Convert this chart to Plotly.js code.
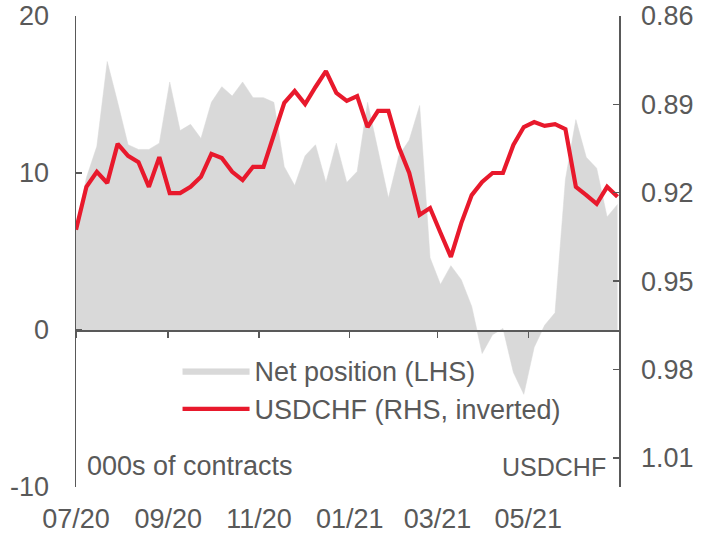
<!DOCTYPE html>
<html>
<head>
<meta charset="utf-8">
<script src="https://cdn.plot.ly/plotly-3.0.1.min.js"></script>
<style>html,body{margin:0;padding:0;background:#fff;}#chart{width:715px;height:537px;}</style>
</head>
<body>
<div id="chart"></div>
<script>
// Weekly observation dates
var dates = [
  '2020-07-01','2020-07-08','2020-07-15','2020-07-22','2020-07-29','2020-08-05','2020-08-12','2020-08-19','2020-08-26',
  '2020-09-02','2020-09-09','2020-09-16','2020-09-23','2020-09-30','2020-10-07','2020-10-14','2020-10-21','2020-10-28',
  '2020-11-04','2020-11-11','2020-11-18','2020-11-25','2020-12-02','2020-12-09','2020-12-16','2020-12-23','2020-12-30',
  '2021-01-06','2021-01-13','2021-01-20','2021-01-27','2021-02-03','2021-02-10','2021-02-17','2021-02-24',
  '2021-03-03','2021-03-10','2021-03-17','2021-03-24','2021-03-31','2021-04-07','2021-04-14','2021-04-21','2021-04-28',
  '2021-05-05','2021-05-12','2021-05-19','2021-05-26','2021-06-02','2021-06-09','2021-06-16','2021-06-23','2021-06-30'
];
// Net position, 000s of contracts (LHS)
var netPosition = [
  6.4, 9.7, 11.7, 17.1, 14.5, 11.8, 11.5, 11.5, 11.9,
  15.8, 12.7, 13.1, 12.2, 14.5, 15.5, 14.9, 15.8, 14.8,
  14.8, 14.5, 10.4, 9.2, 11.1, 11.8, 9.4, 11.9, 9.4,
  10.1, 14.5, 11.5, 8.4, 11.1, 12.1, 14.3, 4.6,
  2.9, 4.1, 3.2, 1.5, -1.5, -0.3, 0.1, -2.7, -4.1,
  -1.1, 0.3, 1.1, 9.6, 13.4, 11.0, 10.3, 7.2, 8.0
];
// USDCHF (RHS, inverted)
var usdchf = [
  0.9326, 0.9180, 0.9129, 0.9167, 0.9034, 0.9075, 0.9096, 0.9180, 0.9079,
  0.9201, 0.9201, 0.9180, 0.9146, 0.9068, 0.9082, 0.9129, 0.9157, 0.9112,
  0.9112, 0.9004, 0.8895, 0.8855, 0.8899, 0.8841, 0.8787, 0.8861, 0.8888,
  0.8872, 0.8977, 0.8922, 0.8922, 0.9045, 0.9133, 0.9275, 0.9252,
  0.9336, 0.9418, 0.9303, 0.9208, 0.9163, 0.9133, 0.9133, 0.9038, 0.8977,
  0.8960, 0.8973, 0.8967, 0.8984, 0.9180, 0.9208, 0.9238, 0.9180, 0.9214
];
var xTickVals = ['2020-07-01','2020-09-01','2020-11-01','2021-01-01','2021-03-01','2021-05-01'];
var xTickText = ['07/20','09/20','11/20','01/21','03/21','05/21'];
var leftTicks = [-10, 0, 10, 20];
var leftTickText = ['-10', '0', '10', '20'];
var rightTicks = [0.86, 0.89, 0.92, 0.95, 0.98, 1.01];
var rightTickText = ['0.86','0.89','0.92','0.95','0.98','1.01'];

var grey = '#595959';
var fontFam = 'Liberation Sans, Arial, sans-serif';
var fs = 27;

var traces = [
  {
    x: dates, y: netPosition, type: 'scatter', mode: 'lines',
    name: 'Net position (LHS)', fill: 'tozeroy', fillcolor: '#D9D9D9',
    line: {color: '#D9D9D9', width: 0.5}, xaxis: 'x', yaxis: 'y', hoverinfo: 'skip'
  },
  {
    x: dates, y: usdchf, type: 'scatter', mode: 'lines',
    name: 'USDCHF (RHS, inverted)',
    line: {color: '#E8192C', width: 4.2}, xaxis: 'x2', yaxis: 'y2', hoverinfo: 'skip'
  }
];

var layout = {
  width: 715, height: 537,
  margin: {l: 76, r: 96, t: 16, b: 50},
  paper_bgcolor: '#ffffff', plot_bgcolor: 'rgba(0,0,0,0)',
  font: {family: fontFam, size: fs, color: grey},
  showlegend: true,
  legend: {
    x: 0.187, y: 0.298, xanchor: 'left', yanchor: 'top',
    bgcolor: 'rgba(0,0,0,0)', font: {size: fs, color: grey, family: fontFam},
    itemwidth: 67, tracegroupgap: 0
  },
  xaxis: {
    type: 'date', range: ['2020-07-01', '2021-07-01'],
    tickmode: 'array', tickvals: xTickVals, ticktext: xTickText,
    showline: false, ticks: '', showgrid: false, zeroline: false,
    tickfont: {size: fs, color: grey}, anchor: 'y', ticklabelstandoff: 13
  },
  xaxis2: {
    type: 'date', matches: 'x', overlaying: 'x', anchor: 'free', position: 1/3,
    tickmode: 'array', tickvals: xTickVals,
    showline: true, linecolor: grey, linewidth: 1.5,
    ticks: 'outside', ticklen: 6, tickwidth: 1.5, tickcolor: grey,
    showticklabels: false, showgrid: false, zeroline: false
  },
  yaxis: {
    range: [-10, 20], tickmode: 'array', tickvals: leftTicks, ticktext: leftTickText,
    showline: true, linecolor: grey, linewidth: 1.5,
    ticks: 'inside', ticklen: 6, tickwidth: 1.5, tickcolor: grey,
    showgrid: false, zeroline: false, tickfont: {size: fs, color: grey},
    ticklabelstandoff: 20, anchor: 'x'
  },
  yaxis2: {
    range: [1.0199, 0.86], overlaying: 'y', side: 'right', anchor: 'x2',
    tickmode: 'array', tickvals: rightTicks, ticktext: rightTickText,
    showline: true, linecolor: grey, linewidth: 1.5,
    ticks: 'inside', ticklen: 6, tickwidth: 1.5, tickcolor: grey,
    showgrid: false, zeroline: false, tickfont: {size: fs, color: grey},
    ticklabelstandoff: 15
  },
  annotations: [
    {text: '000s of contracts', xref: 'paper', yref: 'paper', x: 0.016, y: 0.045,
     xanchor: 'left', yanchor: 'middle', showarrow: false, font: {size: fs, color: grey}},
    {text: 'USDCHF', xref: 'paper', yref: 'paper', x: 0.98, y: 0.043,
     xanchor: 'right', yanchor: 'middle', showarrow: false, font: {size: 25, color: grey}}
  ]
};

Plotly.newPlot('chart', traces, layout, {displayModeBar: false, staticPlot: true});
</script>
</body>
</html>
